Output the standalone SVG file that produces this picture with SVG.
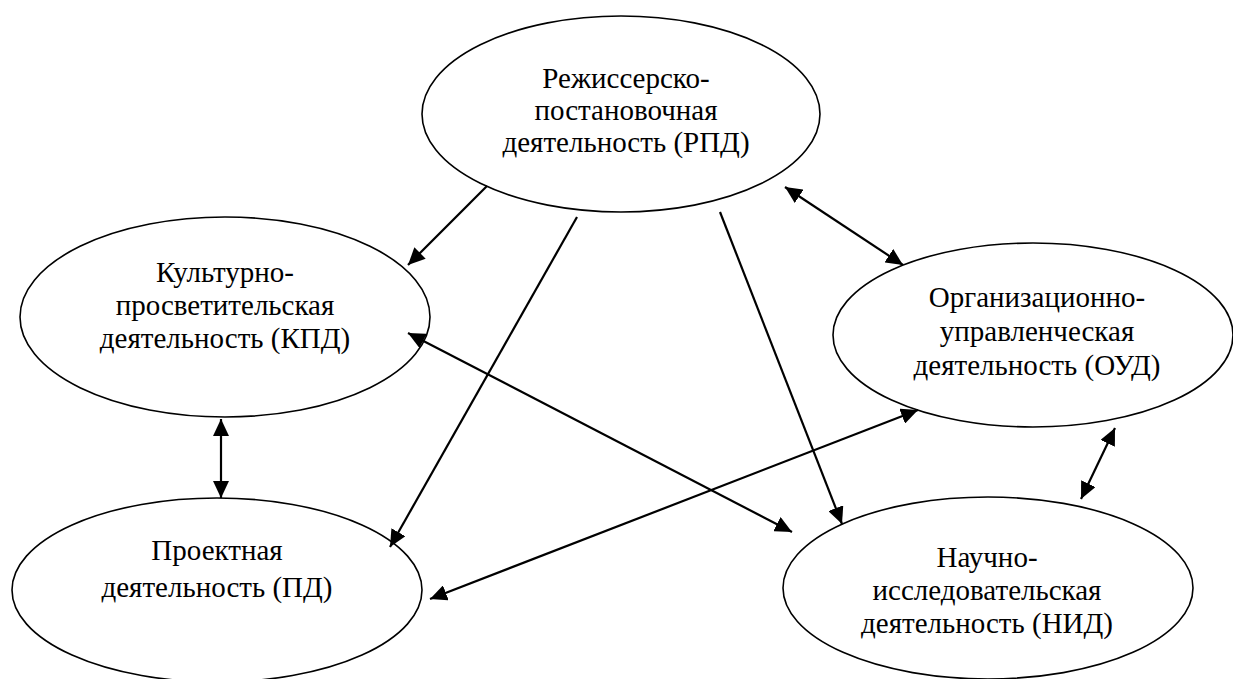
<svg xmlns="http://www.w3.org/2000/svg" width="1233" height="679" viewBox="0 0 1233 679">
<style>
.node ellipse{fill:#fff;stroke:#000;stroke-width:1.6}
.node text{font-size:29px;fill:#000;text-anchor:middle}
.conn line{stroke:#000;stroke-width:2.2;fill:none}
</style>
<defs>
<marker id="ah" viewBox="0 0 17 16" refX="17" refY="8" markerWidth="17" markerHeight="16" markerUnits="userSpaceOnUse" orient="auto-start-reverse">
<path d="M0,0 L17,8 L0,16 z" fill="#000"/>
</marker>
</defs>
<rect width="1233" height="679" fill="#fff"/>
<g font-family="Liberation Serif, Times New Roman, DejaVu Serif, serif">
<g id="n-rpd" class="node">
<ellipse cx="621" cy="114" rx="199" ry="98"/>
<text x="626" y="88">Режиссерско-</text>
<text x="626" y="120">постановочная</text>
<text x="626" y="152">деятельность (РПД)</text>
</g>
<g id="n-kpd" class="node">
<ellipse cx="225" cy="317" rx="205" ry="100"/>
<text x="225" y="282">Культурно-</text>
<text x="225" y="315">просветительская</text>
<text x="225" y="348">деятельность (КПД)</text>
</g>
<g id="n-oud" class="node">
<ellipse cx="1033" cy="335" rx="200" ry="92"/>
<text x="1037" y="307">Организационно-</text>
<text x="1037" y="341">управленческая</text>
<text x="1037" y="375">деятельность (ОУД)</text>
</g>
<g id="n-pd" class="node">
<ellipse cx="217" cy="590" rx="205" ry="92"/>
<text x="217" y="560">Проектная</text>
<text x="217" y="597">деятельность (ПД)</text>
</g>
<g id="n-nid" class="node">
<ellipse cx="988" cy="588" rx="205" ry="91"/>
<text x="987" y="567">Научно-</text>
<text x="987" y="600">исследовательская</text>
<text x="987" y="633">деятельность (НИД)</text>
</g>
</g>
<g id="connectors" class="conn">
<line x1="487" y1="186" x2="408" y2="265" marker-end="url(#ah)"/>
<line x1="577" y1="217" x2="390" y2="547" marker-end="url(#ah)"/>
<line x1="720" y1="212" x2="842" y2="524" marker-end="url(#ah)"/>
<line x1="785" y1="187" x2="903" y2="265" marker-start="url(#ah)" marker-end="url(#ah)"/>
<line x1="408" y1="333" x2="792" y2="532" marker-start="url(#ah)" marker-end="url(#ah)"/>
<line x1="918" y1="410" x2="430" y2="599" marker-start="url(#ah)" marker-end="url(#ah)"/>
<line x1="221" y1="419" x2="221" y2="498" marker-start="url(#ah)" marker-end="url(#ah)"/>
<line x1="1115" y1="428" x2="1081" y2="499" marker-start="url(#ah)" marker-end="url(#ah)"/>
</g>
</svg>
